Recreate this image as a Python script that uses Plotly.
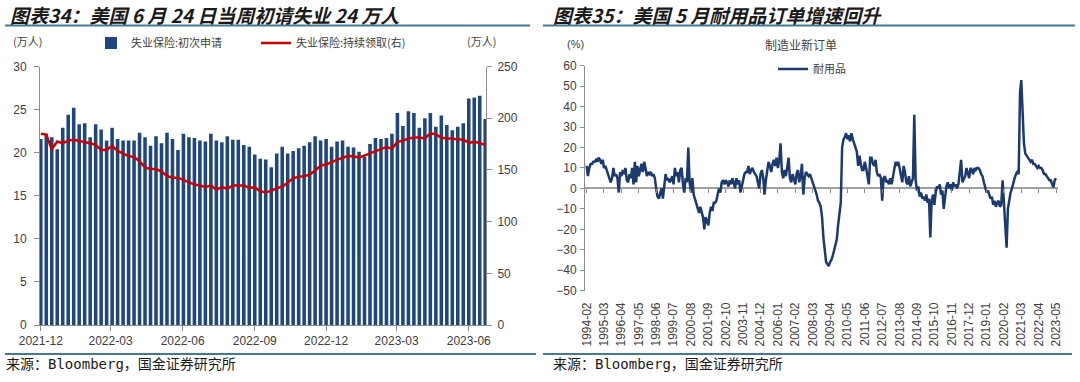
import plotly.graph_objects as go
import pandas as pd

W, H = 1080, 382

# ---------------- Left chart data (weekly, 万人) ----------------
claims_first_week = "2021-12-04"
initial_claims = [
    21.6, 22.2, 21.8, 20.4, 22.9, 24.4, 25.2, 23.3, 23.4, 21.8,
    23.3, 22.7, 21.4, 22.9, 21.6, 21.4, 21.4, 21.4, 22.3, 21.8,
    20.8, 21.9, 21.1, 22.3, 21.6, 20.3, 22.2, 21.8, 21.7, 21.4,
    21.3, 22.2, 21.4, 21.2, 21.9, 21.5, 21.5, 20.9, 20.7, 19.8,
    19.3, 19.2, 18.3, 19.9, 20.7, 19.9, 20.2, 20.5, 20.8, 21.2,
    21.9, 21.4, 21.6, 20.7, 21.3, 21.4, 20.7, 20.6, 20.1, 19.5,
    21.0, 21.7, 21.6, 21.7, 22.2, 24.6, 23.1, 24.8, 24.6, 22.9,
    24.0, 24.6, 23.0, 24.3, 23.2, 22.6, 23.0, 23.4, 26.3, 26.4,
    26.6, 23.9]
continuing_claims = [
    185.0, 184.2, 170.0, 177.5, 175.8, 178.3, 179.2, 178.3, 176.7, 175.8,
    174.2, 169.2, 169.2, 173.3, 168.3, 165.8, 163.3, 162.5, 158.3, 152.5,
    150.8, 150.8, 148.3, 144.2, 142.5, 142.5, 140.0, 138.3, 135.8, 135.0,
    133.3, 135.0, 130.8, 133.3, 131.7, 135.0, 135.0, 135.0, 132.5, 133.3,
    129.2, 128.3,
    129.7, 132.4, 133.7, 138.0, 141.8, 143.5, 143.8, 145.4, 149.3, 154.2,
    155.2, 157.5, 159.8, 161.8, 163.4, 163.1, 161.8, 164.0, 165.7, 168.0,
    170.6, 172.2, 170.6, 177.1, 178.1, 180.4, 181.4, 181.4, 180.4, 185.3,
    184.6, 181.0, 180.4, 180.4, 179.4, 179.4, 176.1, 177.1, 176.1, 173.9]
left_tick_dates = ["2021-12-04", "2022-03-03", "2022-06-03", "2022-09-03",
                   "2022-12-03", "2023-03-03", "2023-06-03"]
left_tick_labels = ["2021-12", "2022-03", "2022-06", "2022-09",
                    "2022-12", "2023-03", "2023-06"]

# ---------------- Right chart data (monthly YoY, %) ----------------
durable_first_month = "1994-02-01"
durable_yoy = [
    11, 6, 10, 12, 12, 13, 13, 14, 13, 15, 14, 12,
    14, 10, 11, 9, 6, 4, 3, 5, 10, 6, 7, 5,
    -2, 8, 6, 9, 7, 10, 4, 3, 7, 5, 10, 2,
    13, 3, 11, 6, 10, 12, 8, 13, 10, 6, 8, 7,
    8, 6, 7, 5, 0, -4, -5, -2, 0, -5, 2, 7,
    4, 5, 3, 4, 6, 2, 10, 6, 8, 3, 9, 10,
    2, -2, 5, 3, 20, 3, -2, 5, -3, -5, -8, -10,
    -12, -9, -11, -14, -20, -14, -16, -18, -12, -9, -11, -7,
    -7, -6, -3, 0, -2, 3, 4, 2, 4, 3, 1, 4,
    2, 5, 3, 0, 5, 2, 4, -2, 1, 5, 7, 8,
    8, 11, 7, 9, 10, 8, 7, 6, 3, 0, 7, 9,
    5, -3, 4, 10, 13, 11, 8, 12, 14, 11, 15, 10,
    14, 22, 8, 5, 9, 6, 11, 15, 5, 3, 7, 4,
    2, 7, 9, 3, 6, 12, -3, 5, 8, 7, 6, 7,
    5, 2, 0, -1, -3, -6, -7, -9, -14, -24, -32, -36,
    -37, -38, -36, -35, -33, -30, -27, -25, -18, -12, -7, 20,
    24, 25, 27, 24, 26, 23, 27, 24, 22, 20, 18, 11,
    16, 12, 9, 9, 13, 10, 6, 2, 15, 15, 12, 11,
    14, 8, 6, 7, 5, -6, 5, 6, 3, 4, 2, 5,
    2, 5, 9, 13, 11, 13, 10, 6, 3, 11, 8, 3,
    2, 6, 1, 3, 5, 36, 4, -1, 1, -4, -2, -5,
    -4, -6, -3, -7, -5, -24, -6, -3, -8, -2, 1, 0,
    2, -3, -1, -10, -4, 1, 3, 0, 2, -1, 3, 1,
    2, 0, 2, 8, 14, 3, 5, 6, 10, 8, 5, 10,
    9, 7, 10, 9, 10, 10, 9, 7, 6, 3, 1, -2,
    -1, -3, -5, -4, -8, -6, -9, -7, -6, -9, -8, 4,
    -6, -14, -29, -10, -5, -2, 0, 3, 5, 7, 8, 7,
    47, 53, 38, 22, 17, 16, 15, 14, 13, 14, 12, 12,
    11, 10, 11, 10, 10, 9, 7, 7, 6, 5, 4, 4,
    2, 0.5, 4, 5]
right_tick_labels = [
    "1994-02", "1995-03", "1996-04", "1997-05", "1998-06", "1999-07", "2000-08",
    "2001-09", "2002-10", "2003-11", "2004-12", "2006-01", "2007-02", "2008-03",
    "2009-04", "2010-05", "2011-06", "2012-07", "2013-08", "2014-09", "2015-10",
    "2016-11", "2017-12", "2019-01", "2020-02", "2021-03", "2022-04", "2023-05"]

# ---------------- derived axes values ----------------
claims_dates = pd.date_range(claims_first_week, periods=len(initial_claims), freq="7D")
durable_dates = pd.date_range(durable_first_month, periods=len(durable_yoy), freq="MS")
right_tick_vals = [pd.Timestamp(s + "-01") for s in right_tick_labels]


def px_x(p):
    return p / W


def px_y(p):
    return 1 - p / H


TICK_FONT = dict(family="Liberation Sans, Arial", size=12, color="#404040")
CJK = "Noto Sans CJK SC"
AXIS_GRAY = "#8c8c8c"

fig = go.Figure()

fig.add_trace(go.Bar(
    x=claims_dates, y=initial_claims, name="失业保险:初次申请",
    marker=dict(color="#1f477e", line=dict(width=0)),
    xaxis="x", yaxis="y", legend="legend"))
fig.add_trace(go.Scatter(
    x=claims_dates, y=continuing_claims, name="失业保险:持续领取(右)",
    mode="lines", line=dict(color="#cc0000", width=2.5),
    xaxis="x", yaxis="y2", legend="legend"))

fig.add_trace(go.Scatter(
    x=durable_dates, y=durable_yoy, name="耐用品", mode="lines",
    line=dict(color="#1c3a6e", width=2.5),
    xaxis="x2", yaxis="y3", legend="legend2"))
# helper trace so the zero-line tick axis is drawn
fig.add_trace(go.Scatter(
    x=[durable_dates[0]], y=[None], mode="lines", showlegend=False,
    hoverinfo="skip", xaxis="x3", yaxis="y3"))

left_y_dom = [px_y(325), px_y(66.5)]
right_y_dom = [px_y(290.7), px_y(65.7)]
right_x_range = ["1993-12-24", "2023-06-15"]

fig.update_layout(
    template="none",
    width=W, height=H, margin=dict(l=0, r=0, t=0, b=0, autoexpand=False),
    paper_bgcolor="white", plot_bgcolor="white",
    bargap=0.35, showlegend=True,
    xaxis=dict(domain=[px_x(40), px_x(486)], anchor="y", type="date",
               range=["2021-12-03", "2023-06-25"],
               tickvals=left_tick_dates, ticktext=left_tick_labels,
               ticks="outside", ticklen=5, tickcolor=AXIS_GRAY,
               showline=True, linecolor=AXIS_GRAY, linewidth=1,
               showgrid=False, zeroline=False, tickfont=TICK_FONT,
               automargin=False),
    yaxis=dict(domain=left_y_dom, anchor="x", range=[0, 30], dtick=5,
               ticks="outside", ticklen=5, tickcolor=AXIS_GRAY,
               showline=True, linecolor=AXIS_GRAY, showgrid=False,
               zeroline=False, tickfont=TICK_FONT, ticklabelstandoff=5,
               automargin=False),
    yaxis2=dict(domain=left_y_dom, anchor="x", overlaying="y", side="right",
                range=[0, 250], dtick=50, ticks="outside", ticklen=5,
                tickcolor=AXIS_GRAY, showline=True, linecolor=AXIS_GRAY,
                showgrid=False, zeroline=False, tickfont=TICK_FONT,
                ticklabelstandoff=3, automargin=False),
    xaxis2=dict(domain=[px_x(585), px_x(1058)], anchor="y3", type="date",
                range=right_x_range, tickvals=right_tick_vals,
                ticktext=right_tick_labels, tickangle=-90,
                ticks="outside", ticklen=6, tickcolor="rgba(0,0,0,0)",
                showline=False, showgrid=False, zeroline=False,
                tickfont=TICK_FONT, automargin=False),
    xaxis3=dict(domain=[px_x(585), px_x(1058)], anchor="free",
                position=px_y(188.3), overlaying="x2", type="date",
                range=right_x_range, tickvals=right_tick_vals,
                showticklabels=False, ticks="outside", ticklen=4,
                tickcolor=AXIS_GRAY, showline=False, showgrid=False,
                zeroline=False, automargin=False),
    yaxis3=dict(domain=right_y_dom, anchor="x2", range=[-50, 60], dtick=10,
                ticks="outside", ticklen=4, tickcolor=AXIS_GRAY,
                showline=True, linecolor=AXIS_GRAY, showgrid=False,
                zeroline=True, zerolinecolor="#a0a0a0", zerolinewidth=1.5,
                tickfont=TICK_FONT, ticklabelstandoff=1, automargin=False),
    legend=dict(orientation="h", x=px_x(91), y=px_y(43), xanchor="left",
                yanchor="middle", font=dict(family=CJK, size=11, color="#404040"),
                bgcolor="rgba(0,0,0,0)", entrywidth=120, itemwidth=30,
                traceorder="normal"),
    legend2=dict(orientation="h", x=px_x(773), y=px_y(69), xanchor="left",
                 yanchor="middle", font=dict(family=CJK, size=11, color="#404040"),
                 bgcolor="rgba(0,0,0,0)", itemwidth=30),
)

TITLE_FONT = dict(family=CJK, size=19, color="#1a1a1a", weight="bold", style="italic")
SRC_FONT = dict(family="DejaVu Sans Mono, " + CJK, size=14, color="#1a1a1a")
SMALL = dict(family=CJK, size=11, color="#404040")

annotations = [
    dict(text="图表34：美国 6 月 24 日当周初请失业 24 万人", x=px_x(8), y=px_y(15),
         xanchor="left", yanchor="middle", font=TITLE_FONT),
    dict(text="图表35：美国 5 月耐用品订单增速回升", x=px_x(551), y=px_y(15),
         xanchor="left", yanchor="middle", font=TITLE_FONT),
    dict(text="来源：Bloomberg，国金证券研究所", x=px_x(4), y=px_y(364),
         xanchor="left", yanchor="middle", font=SRC_FONT),
    dict(text="来源：Bloomberg，国金证券研究所", x=px_x(551), y=px_y(364),
         xanchor="left", yanchor="middle", font=SRC_FONT),
    dict(text="(万人)", x=px_x(27), y=px_y(41), xanchor="center",
         yanchor="middle", font=SMALL),
    dict(text="(万人)", x=px_x(481), y=px_y(41), xanchor="center",
         yanchor="middle", font=SMALL),
    dict(text="(%)", x=px_x(575), y=px_y(44), xanchor="center",
         yanchor="middle", font=dict(family="Liberation Sans, Arial", size=11, color="#404040")),
    dict(text="制造业新订单", x=px_x(801), y=px_y(45), xanchor="center",
         yanchor="middle", font=dict(family=CJK, size=12, color="#404040")),
]
for a in annotations:
    a.update(xref="paper", yref="paper", showarrow=False)
fig.update_layout(annotations=annotations)

LINE_COL = "#41799a"
shapes = []
for x0, x1, yy in [(5, 530, 25.5), (543, 1075, 25.5), (5, 536, 354), (543, 1072, 354)]:
    shapes.append(dict(type="line", xref="paper", yref="paper",
                       x0=px_x(x0), x1=px_x(x1), y0=px_y(yy), y1=px_y(yy),
                       line=dict(color=LINE_COL, width=2)))
fig.update_layout(shapes=shapes)

fig.write_html("out.html", config={"displayModeBar": False},
               post_script="document.body.style.margin='0';document.body.style.overflow='hidden';")
